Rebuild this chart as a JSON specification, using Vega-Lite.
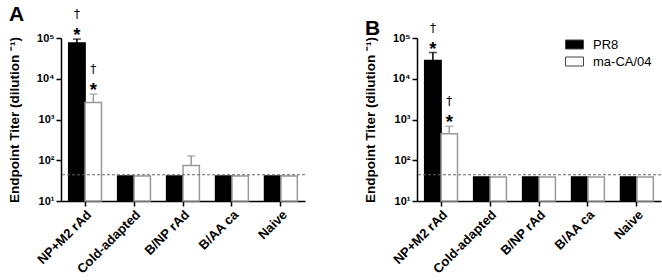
{
  "$schema": "https://vega.github.io/schema/vega-lite/v6.json",
  "padding": {"left": 7, "top": 4, "right": 0, "bottom": 0},
  "config": {
    "font": "Liberation Sans",
    "view": {"stroke": null},
    "axis": {"domainColor": "black", "domainWidth": 1.5, "tickColor": "black", "tickWidth": 1.5, "labelColor": "black", "titleColor": "black", "grid": false, "labelFont": "Liberation Sans", "titleFont": "Liberation Sans"},
    "title": {"font": "Liberation Sans", "fontSize": 21, "fontWeight": "bold", "color": "black", "anchor": "start", "frame": "group", "dx": -52, "offset": -17}
  },
  "datasets": {
    "bars": [
      {"panel": "A", "group": "NP+M2 rAd", "virus": "PR8", "value": 75000, "upper": 94000},
      {"panel": "A", "group": "NP+M2 rAd", "virus": "ma-CA/04", "value": 2600, "upper": 4200},
      {"panel": "A", "group": "Cold-adapted", "virus": "PR8", "value": 41, "upper": 41},
      {"panel": "A", "group": "Cold-adapted", "virus": "ma-CA/04", "value": 41, "upper": 41},
      {"panel": "A", "group": "B/NP rAd", "virus": "PR8", "value": 41, "upper": 41},
      {"panel": "A", "group": "B/NP rAd", "virus": "ma-CA/04", "value": 74, "upper": 128},
      {"panel": "A", "group": "B/AA ca", "virus": "PR8", "value": 41, "upper": 41},
      {"panel": "A", "group": "B/AA ca", "virus": "ma-CA/04", "value": 41, "upper": 41},
      {"panel": "A", "group": "Naive", "virus": "PR8", "value": 41, "upper": 41},
      {"panel": "A", "group": "Naive", "virus": "ma-CA/04", "value": 41, "upper": 41},
      {"panel": "B", "group": "NP+M2 rAd", "virus": "PR8", "value": 28000, "upper": 44000},
      {"panel": "B", "group": "NP+M2 rAd", "virus": "ma-CA/04", "value": 450, "upper": 680},
      {"panel": "B", "group": "Cold-adapted", "virus": "PR8", "value": 39, "upper": 39},
      {"panel": "B", "group": "Cold-adapted", "virus": "ma-CA/04", "value": 39, "upper": 39},
      {"panel": "B", "group": "B/NP rAd", "virus": "PR8", "value": 39, "upper": 39},
      {"panel": "B", "group": "B/NP rAd", "virus": "ma-CA/04", "value": 39, "upper": 39},
      {"panel": "B", "group": "B/AA ca", "virus": "PR8", "value": 39, "upper": 39},
      {"panel": "B", "group": "B/AA ca", "virus": "ma-CA/04", "value": 39, "upper": 39},
      {"panel": "B", "group": "Naive", "virus": "PR8", "value": 39, "upper": 39},
      {"panel": "B", "group": "Naive", "virus": "ma-CA/04", "value": 39, "upper": 39}
    ],
    "limit": [
      {"panel": "A", "limit": 44},
      {"panel": "B", "limit": 44}
    ]
  },
  "resolve": {"scale": {"color": "independent"}},
  "spacing": 57,
  "hconcat": [
    {
      "title": {"text": "A"},
      "width": 244,
      "height": 163,
      "layer": [
        {
          "data": {"name": "bars"},
          "transform": [{"filter": "datum.panel === 'A'"}],
          "mark": {"type": "bar", "strokeWidth": 1.5},
          "encoding": {
            "x": {"field": "group", "type": "nominal", "sort": ["NP+M2 rAd", "Cold-adapted", "B/NP rAd", "B/AA ca", "Naive"], "scale": {"paddingInner": 0.33, "paddingOuter": 0.157}, "axis": {"title": null, "labelAngle": -45, "labelFontSize": 13, "labelFontWeight": "bold", "tickSize": 5, "labelPadding": 2}},
            "xOffset": {"field": "virus", "type": "nominal", "sort": ["PR8", "ma-CA/04"], "scale": {"paddingInner": 0, "paddingOuter": 0}},
            "y": {"field": "value", "type": "quantitative", "scale": {"type": "log", "domain": [10, 100000], "nice": false}, "axis": {"values": [10, 100, 1000, 10000, 100000], "labelExpr": "'10' + ['¹','²','³','⁴','⁵'][round(log(datum.value)/LN10)-1]", "labelFontSize": 11, "labelFontWeight": "bold", "tickSize": 5, "labelPadding": 2, "title": "Endpoint Titer (dilution ⁻¹)", "titleFontSize": 13.5, "titleFontWeight": "bold", "titlePadding": 15}},
            "y2": {"datum": 10},
            "color": {"field": "virus", "type": "nominal", "scale": {"domain": ["PR8", "ma-CA/04"], "range": ["black", "white"]}, "legend": null},
            "stroke": {"condition": {"test": "datum.virus === 'PR8'", "value": "black"}, "value": "#999"}
          }
        },
        {
          "data": {"name": "bars"},
          "transform": [{"filter": "datum.panel === 'A' && datum.upper > datum.value"}],
          "mark": {"type": "rule", "strokeWidth": 1.5},
          "encoding": {
            "x": {"field": "group", "type": "nominal", "sort": ["NP+M2 rAd", "Cold-adapted", "B/NP rAd", "B/AA ca", "Naive"]},
            "xOffset": {"field": "virus", "type": "nominal", "sort": ["PR8", "ma-CA/04"]},
            "y": {"field": "value", "type": "quantitative"},
            "y2": {"field": "upper"},
            "stroke": {"condition": {"test": "datum.virus === 'PR8'", "value": "black"}, "value": "#999"}
          }
        },
        {
          "data": {"name": "bars"},
          "transform": [{"filter": "datum.panel === 'A' && datum.upper > datum.value"}],
          "mark": {"type": "tick", "orient": "horizontal", "size": 8, "thickness": 1.5},
          "encoding": {
            "x": {"field": "group", "type": "nominal", "sort": ["NP+M2 rAd", "Cold-adapted", "B/NP rAd", "B/AA ca", "Naive"]},
            "xOffset": {"field": "virus", "type": "nominal", "sort": ["PR8", "ma-CA/04"]},
            "y": {"field": "upper", "type": "quantitative"},
            "color": {"condition": {"test": "datum.virus === 'PR8'", "value": "black"}, "value": "#999"}
          }
        },
        {
          "data": {"name": "bars"},
          "transform": [{"filter": "datum.panel === 'A' && datum.upper > 1000"}],
          "mark": {"type": "text", "text": "*", "fontSize": 18.5, "fontWeight": "bold", "baseline": "alphabetic", "dy": 2, "color": "black"},
          "encoding": {
            "x": {"field": "group", "type": "nominal", "sort": ["NP+M2 rAd", "Cold-adapted", "B/NP rAd", "B/AA ca", "Naive"]},
            "xOffset": {"field": "virus", "type": "nominal", "sort": ["PR8", "ma-CA/04"]},
            "y": {"field": "upper", "type": "quantitative"}
          }
        },
        {
          "data": {"name": "bars"},
          "transform": [{"filter": "datum.panel === 'A' && datum.upper > 1000"}],
          "mark": {"type": "text", "text": "†", "font": "DejaVu Sans", "fontSize": 12, "baseline": "alphabetic", "dy": -21, "color": "black"},
          "encoding": {
            "x": {"field": "group", "type": "nominal", "sort": ["NP+M2 rAd", "Cold-adapted", "B/NP rAd", "B/AA ca", "Naive"]},
            "xOffset": {"field": "virus", "type": "nominal", "sort": ["PR8", "ma-CA/04"]},
            "y": {"field": "upper", "type": "quantitative"}
          }
        },
        {
          "data": {"name": "limit"},
          "transform": [{"filter": "datum.panel === 'A'"}],
          "mark": {"type": "rule", "strokeDash": [3, 2], "color": "#666", "strokeWidth": 1},
          "encoding": {"y": {"field": "limit", "type": "quantitative"}}
        }
      ]
    },
    {
      "title": {"text": "B"},
      "width": 244,
      "height": 163,
      "layer": [
        {
          "data": {"name": "bars"},
          "transform": [{"filter": "datum.panel === 'B'"}],
          "mark": {"type": "bar", "strokeWidth": 1.5},
          "encoding": {
            "x": {"field": "group", "type": "nominal", "sort": ["NP+M2 rAd", "Cold-adapted", "B/NP rAd", "B/AA ca", "Naive"], "scale": {"paddingInner": 0.33, "paddingOuter": 0.157}, "axis": {"title": null, "labelAngle": -45, "labelFontSize": 13, "labelFontWeight": "bold", "tickSize": 5, "labelPadding": 2}},
            "xOffset": {"field": "virus", "type": "nominal", "sort": ["PR8", "ma-CA/04"], "scale": {"paddingInner": 0, "paddingOuter": 0}},
            "y": {"field": "value", "type": "quantitative", "scale": {"type": "log", "domain": [10, 100000], "nice": false}, "axis": {"values": [10, 100, 1000, 10000, 100000], "labelExpr": "'10' + ['¹','²','³','⁴','⁵'][round(log(datum.value)/LN10)-1]", "labelFontSize": 11, "labelFontWeight": "bold", "tickSize": 5, "labelPadding": 2, "title": "Endpoint Titer (dilution ⁻¹)", "titleFontSize": 13.5, "titleFontWeight": "bold", "titlePadding": 15}},
            "y2": {"datum": 10},
            "color": {"field": "virus", "type": "nominal", "scale": {"domain": ["PR8", "ma-CA/04"], "range": ["black", "white"]}, "legend": {"title": null, "orient": "none", "legendX": 148, "legendY": -3, "symbolType": "M-1,-0.5H1V0.5H-1Z", "symbolSize": 324, "symbolStrokeColor": "#444", "symbolStrokeWidth": 1, "labelFontSize": 13, "labelFont": "Liberation Sans", "labelColor": "black", "labelOffset": 9, "rowPadding": 0}},
            "stroke": {"condition": {"test": "datum.virus === 'PR8'", "value": "black"}, "value": "#999"}
          }
        },
        {
          "data": {"name": "bars"},
          "transform": [{"filter": "datum.panel === 'B' && datum.upper > datum.value"}],
          "mark": {"type": "rule", "strokeWidth": 1.5},
          "encoding": {
            "x": {"field": "group", "type": "nominal", "sort": ["NP+M2 rAd", "Cold-adapted", "B/NP rAd", "B/AA ca", "Naive"]},
            "xOffset": {"field": "virus", "type": "nominal", "sort": ["PR8", "ma-CA/04"]},
            "y": {"field": "value", "type": "quantitative"},
            "y2": {"field": "upper"},
            "stroke": {"condition": {"test": "datum.virus === 'PR8'", "value": "black"}, "value": "#999"}
          }
        },
        {
          "data": {"name": "bars"},
          "transform": [{"filter": "datum.panel === 'B' && datum.upper > datum.value"}],
          "mark": {"type": "tick", "orient": "horizontal", "size": 8, "thickness": 1.5},
          "encoding": {
            "x": {"field": "group", "type": "nominal", "sort": ["NP+M2 rAd", "Cold-adapted", "B/NP rAd", "B/AA ca", "Naive"]},
            "xOffset": {"field": "virus", "type": "nominal", "sort": ["PR8", "ma-CA/04"]},
            "y": {"field": "upper", "type": "quantitative"},
            "color": {"condition": {"test": "datum.virus === 'PR8'", "value": "black"}, "value": "#999"}
          }
        },
        {
          "data": {"name": "bars"},
          "transform": [{"filter": "datum.panel === 'B' && datum.upper > 300"}],
          "mark": {"type": "text", "text": "*", "fontSize": 18.5, "fontWeight": "bold", "baseline": "alphabetic", "dy": 2, "color": "black"},
          "encoding": {
            "x": {"field": "group", "type": "nominal", "sort": ["NP+M2 rAd", "Cold-adapted", "B/NP rAd", "B/AA ca", "Naive"]},
            "xOffset": {"field": "virus", "type": "nominal", "sort": ["PR8", "ma-CA/04"]},
            "y": {"field": "upper", "type": "quantitative"}
          }
        },
        {
          "data": {"name": "bars"},
          "transform": [{"filter": "datum.panel === 'B' && datum.upper > 300"}],
          "mark": {"type": "text", "text": "†", "font": "DejaVu Sans", "fontSize": 12, "baseline": "alphabetic", "dy": -21, "color": "black"},
          "encoding": {
            "x": {"field": "group", "type": "nominal", "sort": ["NP+M2 rAd", "Cold-adapted", "B/NP rAd", "B/AA ca", "Naive"]},
            "xOffset": {"field": "virus", "type": "nominal", "sort": ["PR8", "ma-CA/04"]},
            "y": {"field": "upper", "type": "quantitative"}
          }
        },
        {
          "data": {"name": "limit"},
          "transform": [{"filter": "datum.panel === 'B'"}],
          "mark": {"type": "rule", "strokeDash": [3, 2], "color": "#666", "strokeWidth": 1},
          "encoding": {"y": {"field": "limit", "type": "quantitative"}}
        }
      ]
    }
  ]
}
